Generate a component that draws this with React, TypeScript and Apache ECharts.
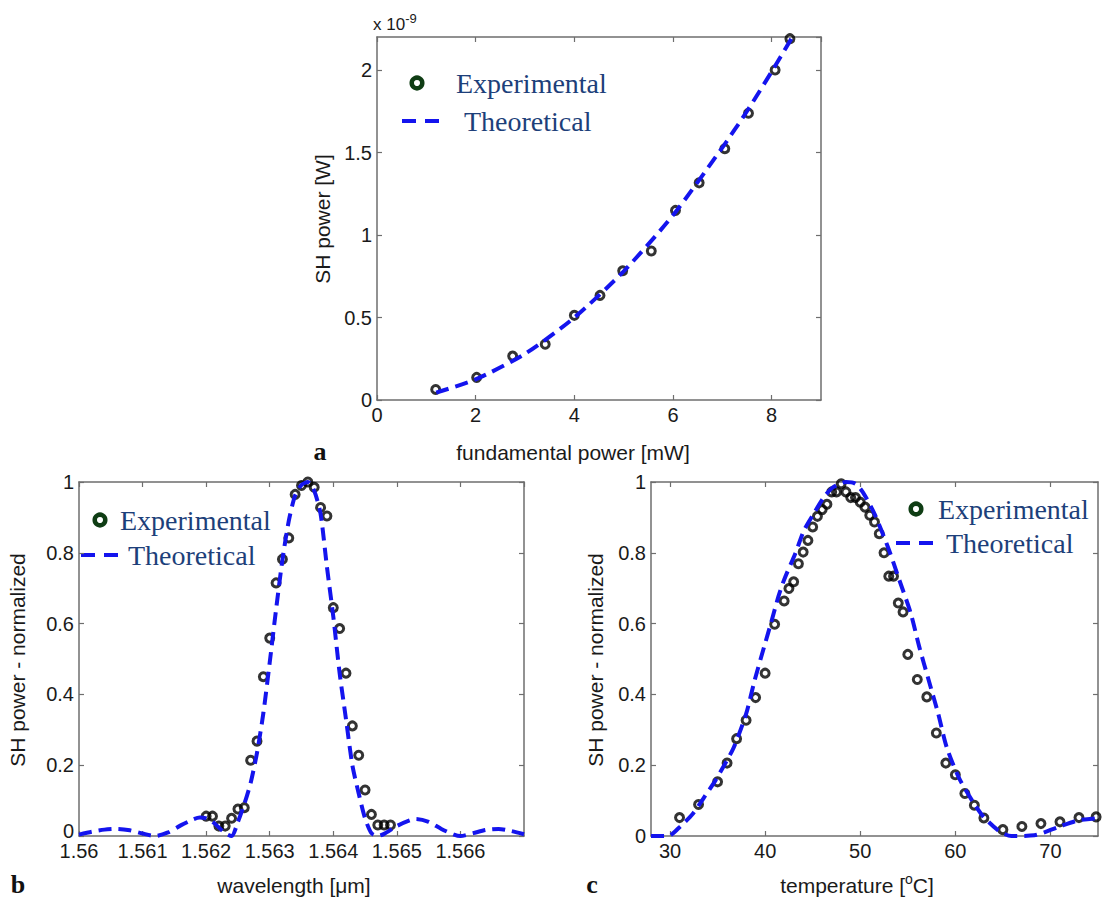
import React, { useEffect, useRef } from 'react';
import * as echarts from 'echarts';

// ---------- Panel a: SH power vs fundamental power ----------
const powerX = [1.19, 2.02, 2.75, 3.41, 4.0, 4.52, 4.98, 5.56, 6.05, 6.53, 7.05, 7.53, 8.07, 8.37];
const powerY = [0.064, 0.137, 0.266, 0.338, 0.513, 0.634, 0.783, 0.903, 1.149, 1.316, 1.523, 1.738, 2.0, 2.19];
const fitAX = [1.2, 2, 3, 4, 5, 6, 7, 7.5, 8, 8.4];
const fitAY = [0.045, 0.125, 0.28, 0.5, 0.78, 1.12, 1.53, 1.75, 1.99, 2.19];

// ---------- Panel b: SH power vs wavelength ----------
const waveX = [1.562, 1.5621, 1.5622, 1.5623, 1.5624, 1.5625, 1.5626, 1.5627, 1.5628, 1.5629,
  1.563, 1.5631, 1.5632, 1.5633, 1.5634, 1.5635, 1.5636, 1.5637, 1.5638, 1.5639,
  1.564, 1.5641, 1.5642, 1.5643, 1.5644, 1.5645, 1.5646, 1.5647, 1.5648, 1.5649];
const waveY = [0.056, 0.056, 0.028, 0.028, 0.05, 0.076, 0.08, 0.214, 0.268, 0.45,
  0.559, 0.715, 0.782, 0.842, 0.965, 0.99, 1.0, 0.985, 0.928, 0.904,
  0.645, 0.586, 0.46, 0.311, 0.228, 0.13, 0.061, 0.031, 0.031, 0.031];
const fitBX = [1.56, 1.5602, 1.5604, 1.5606, 1.5608, 1.561, 1.5612, 1.5614, 1.5616, 1.5618,
  1.5619, 1.562, 1.5621, 1.5622, 1.5623, 1.5624,
  1.5625, 1.5626, 1.5627, 1.5628, 1.5629, 1.563, 1.5631, 1.5632, 1.5633, 1.5634, 1.5635, 1.5636,
  1.5637, 1.5638, 1.5639, 1.564, 1.5641, 1.5642, 1.5643, 1.5644, 1.5645, 1.5646, 1.5647,
  1.5648, 1.565, 1.5652, 1.5653, 1.5655, 1.5657, 1.5659, 1.566, 1.5662, 1.5664, 1.5666, 1.5668, 1.567];
const fitBY = [0.004, 0.012, 0.018, 0.02, 0.016, 0.007, 0.0, 0.01, 0.03, 0.047,
  0.052, 0.05, 0.04, 0.024, 0.008, 0.0,
  0.04, 0.09, 0.15, 0.235, 0.347, 0.49, 0.64, 0.78, 0.89, 0.962, 0.992, 1.0,
  0.975, 0.91, 0.76, 0.62, 0.46, 0.33, 0.2, 0.12, 0.05, 0.008, 0.0,
  0.006, 0.028, 0.044, 0.048, 0.04, 0.02, 0.004, 0.0, 0.008, 0.017, 0.02, 0.014, 0.005];

// ---------- Panel c: SH power vs temperature ----------
const tempX = [31, 33, 35, 36, 37, 38, 39, 40, 41, 42, 42.5, 43, 43.5, 44, 44.5, 45, 45.5, 46, 46.5, 47,
  47.5, 48, 48.5, 49, 49.5, 50, 50.5, 51, 51.5, 52, 52.5, 53, 53.5, 54, 54.5, 55, 56, 57, 58, 59,
  60, 61, 62, 63, 65, 67, 69, 71, 73, 74.8];
const tempY = [0.052, 0.089, 0.153, 0.206, 0.275, 0.327, 0.391, 0.46, 0.598, 0.664, 0.699, 0.718, 0.769, 0.802, 0.835, 0.873, 0.903, 0.922, 0.937, 0.972,
  0.972, 0.995, 0.972, 0.956, 0.956, 0.943, 0.929, 0.906, 0.887, 0.854, 0.8, 0.734, 0.734, 0.658, 0.633, 0.513, 0.442, 0.393, 0.291, 0.206,
  0.173, 0.12, 0.087, 0.051, 0.018, 0.027, 0.035, 0.04, 0.052, 0.054];
const fitCX = [28, 29.8, 31, 32.4, 33.6, 34.8, 35.7, 36.7, 38.0, 38.9, 39.9, 40.6, 41.4, 42.0, 43.2, 44.1, 45.1, 46.2, 47.2, 48.5,
  49.5, 50.3, 51.5, 52.9, 54.1, 55.3, 56.2, 57.2, 58.2, 59.1, 60.5, 62.7, 64.5, 65.9, 68.3, 70.8, 72.9, 75];
const fitCY = [0, 0, 0.025, 0.063, 0.11, 0.158, 0.2, 0.25, 0.345, 0.44, 0.535, 0.6, 0.677, 0.724, 0.8, 0.864, 0.91, 0.958, 0.986, 1.0,
  0.995, 0.97, 0.91, 0.817, 0.724, 0.63, 0.535, 0.44, 0.345, 0.25, 0.158, 0.063, 0.016, 0, 0.002, 0.025, 0.044, 0.05];
const tempTicks = [30, 40, 50, 60, 70];

const legendLabels = ['Experimental', 'Theoretical'];
const panelLetters = ['a', 'b', 'c'];
const xTitles = ['fundamental power [mW]', 'wavelength [\u03bcm]', 'temperature [°C]'];
const yTitles = ['SH power [W]', 'SH power - normalized', 'SH power - normalized'];

const zip = (xs: number[], ys: number[]) => xs.map((x, i) => [x, ys[i]]);

const AXIS_COLOR = '#6e6e6e';
const SANS = '"Liberation Sans", Arial, sans-serif';
const SERIF = '"Liberation Serif", "Times New Roman", serif';
const LINE_BLUE = '#1414ee';
const LEGEND_TEXT = '#1d3f7a';

function axis(extra: any, showLabel: boolean, hideMax: boolean) {
  return {
    type: 'value',
    axisLine: { show: true, onZero: false, lineStyle: { color: AXIS_COLOR, width: 1.5 } },
    axisTick: { show: true, inside: true, length: 5, lineStyle: { color: AXIS_COLOR, width: 1.2 } },
    splitLine: { show: false },
    axisLabel: {
      show: showLabel,
      color: '#1a1a1a',
      fontSize: 20,
      fontFamily: SANS,
      margin: 5,
      showMaxLabel: !hideMax,
    },
    ...extra,
  };
}

function legendGraphics(cx: number, cy: number, textX: number, lx1: number, lx2: number, ly: number, t2x: number) {
  return [
    { type: 'circle', shape: { cx, cy, r: 5.3 }, style: { fill: 'none', stroke: '#0f3d14', lineWidth: 4.5 } },
    { type: 'text', x: textX, y: cy, style: { text: legendLabels[0], fontSize: 28, fontFamily: SERIF, fill: LEGEND_TEXT, verticalAlign: 'middle', align: 'left' } },
    { type: 'line', shape: { x1: lx1, y1: ly, x2: lx2, y2: ly }, style: { stroke: LINE_BLUE, lineWidth: 4, lineDash: [14, 9] } },
    { type: 'text', x: t2x, y: ly, style: { text: legendLabels[1], fontSize: 28, fontFamily: SERIF, fill: LEGEND_TEXT, verticalAlign: 'middle', align: 'left' } },
  ];
}

function titleText(text: string, x: number, y: number, rotate: boolean) {
  return {
    type: 'text', x, y, rotation: rotate ? Math.PI / 2 : 0,
    style: { text, fontSize: 21, fontFamily: SANS, fill: '#1a1a1a', align: 'center', verticalAlign: 'middle' },
  };
}

function letterText(text: string, x: number, y: number) {
  return {
    type: 'text', x, y,
    style: { text, fontSize: 26, fontWeight: 'bold', fontFamily: SERIF, fill: '#111', align: 'center', verticalAlign: 'middle' },
  };
}

export default function App() {
  const ref = useRef<HTMLDivElement>(null);
  useEffect(() => {
    if (!ref.current) return;
    const chart = echarts.init(ref.current, undefined, { renderer: 'svg' });

    const grids = [
      { left: 377, top: 37, width: 444, height: 363 },
      { left: 79, top: 482, width: 445, height: 354 },
      { left: 651, top: 482, width: 447, height: 354 },
    ];

    const scatterStyle = {
      type: 'scatter', symbol: 'circle', symbolSize: 8, z: 3,
      itemStyle: { color: 'rgba(255,255,255,0)', borderColor: '#000', borderWidth: 3 },
    };
    const lineStyleBase = {
      type: 'line', showSymbol: false, symbol: 'none', z: 4, smooth: 0.25,
      lineStyle: { color: LINE_BLUE, width: 4, type: [13, 7] },
    };

    const yB: any = axis({ gridIndex: 1, position: 'left', min: 0, max: 1, interval: 0.2 }, true, false);
    yB.axisLabel.formatter = (v: number) => (v === 0 ? '{z|0}' : String(v));
    yB.axisLabel.rich = { z: { fontSize: 20, fontFamily: SANS, color: '#1a1a1a', padding: [0, 0, 10, 0] } };

    const xC: any = axis({ gridIndex: 2, position: 'bottom', min: 28, max: 75 }, true, false);
    xC.axisLabel.customValues = tempTicks;
    xC.axisTick.customValues = tempTicks;
    const xCt: any = axis({ gridIndex: 2, position: 'top', min: 28, max: 75 }, false, false);
    xCt.axisLabel.customValues = tempTicks;
    xCt.axisTick.customValues = tempTicks;

    const option: any = {
      animation: false,
      backgroundColor: '#ffffff',
      grid: grids.map((g) => ({ ...g, containLabel: false })),
      xAxis: [
        axis({ gridIndex: 0, position: 'bottom', min: 0, max: 9, interval: 2 }, true, true),
        axis({ gridIndex: 0, position: 'top', min: 0, max: 9, interval: 2 }, false, true),
        axis({ gridIndex: 1, position: 'bottom', min: 1.56, max: 1.567, interval: 0.001 }, true, true),
        axis({ gridIndex: 1, position: 'top', min: 1.56, max: 1.567, interval: 0.001 }, false, true),
        xC,
        xCt,
      ],
      yAxis: [
        axis({ gridIndex: 0, position: 'left', min: 0, max: 2.2, interval: 0.5 }, true, true),
        axis({ gridIndex: 0, position: 'right', min: 0, max: 2.2, interval: 0.5 }, false, true),
        yB,
        axis({ gridIndex: 1, position: 'right', min: 0, max: 1, interval: 0.2 }, false, false),
        axis({ gridIndex: 2, position: 'left', min: 0, max: 1, interval: 0.2 }, true, false),
        axis({ gridIndex: 2, position: 'right', min: 0, max: 1, interval: 0.2 }, false, false),
      ],
      series: [
        { ...scatterStyle, name: 'Experimental', xAxisIndex: 0, yAxisIndex: 0, data: zip(powerX, powerY) },
        { ...lineStyleBase, name: 'Theoretical', xAxisIndex: 0, yAxisIndex: 0, data: zip(fitAX, fitAY) },
        { ...scatterStyle, name: 'Experimental', xAxisIndex: 2, yAxisIndex: 2, data: zip(waveX, waveY) },
        { ...lineStyleBase, name: 'Theoretical', xAxisIndex: 2, yAxisIndex: 2, data: zip(fitBX, fitBY) },
        { ...scatterStyle, name: 'Experimental', xAxisIndex: 4, yAxisIndex: 4, data: zip(tempX, tempY) },
        { ...lineStyleBase, name: 'Theoretical', xAxisIndex: 4, yAxisIndex: 4, data: zip(fitCX, fitCY) },
      ],
      graphic: [
        // exponent label of panel a
        {
          type: 'text', x: 373, y: 12,
          style: {
            text: '{n|x 10}{s|-9}', fill: '#1a1a1a', fontFamily: SANS,
            rich: {
              n: { fontSize: 17, lineHeight: 24, fontFamily: SANS, fill: '#1a1a1a' },
              s: { fontSize: 13, lineHeight: 9, verticalAlign: 'top', fontFamily: SANS, fill: '#1a1a1a' },
            },
          },
        },
        ...legendGraphics(417, 83, 456, 402, 440, 121, 464),
        ...legendGraphics(100, 520, 120, 81, 122, 555, 128),
        ...legendGraphics(916, 509, 938, 896, 940, 543, 946),
        titleText(xTitles[0], 573, 452, false),
        titleText(xTitles[1], 294, 885, false),
        {
          type: 'text', x: 857, y: 885,
          style: {
            text: '{n|temperature [}{s|o}{n|C]}', align: 'center', verticalAlign: 'middle', fill: '#1a1a1a',
            rich: {
              n: { fontSize: 21, lineHeight: 26, fontFamily: SANS, fill: '#1a1a1a' },
              s: { fontSize: 14, lineHeight: 12, verticalAlign: 'top', fontFamily: SANS, fill: '#1a1a1a' },
            },
          },
        },
        titleText(yTitles[0], 322, 219, true),
        titleText(yTitles[1], 17, 660, true),
        titleText(yTitles[2], 595, 660, true),
        letterText(panelLetters[0], 320, 451),
        letterText(panelLetters[1], 18, 884),
        letterText(panelLetters[2], 592, 884),
      ],
    };
    chart.setOption(option);
    return () => chart.dispose();
  }, []);
  return (
    <div
      ref={ref}
      style={{ position: 'absolute', left: 0, top: 0, width: 1105, height: 897, background: '#fff' }}
    />
  );
}
